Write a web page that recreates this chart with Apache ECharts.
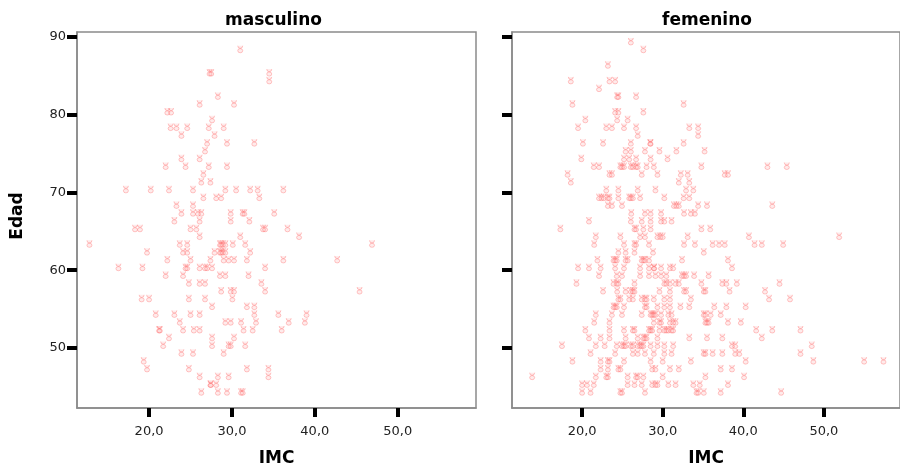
<!DOCTYPE html>
<html>
<head>
<meta charset="utf-8">
<script src="https://cdn.jsdelivr.net/npm/echarts@6/dist/echarts.min.js"></script>
<style>html,body{margin:0;padding:0;background:#fff}#c{width:900px;height:472px}</style>
</head>
<body>
<div id="c"></div>
<script>
// ---- data: [IMC, Edad] ----
const masculino = [
[31.0,88],
[27.3,85],[27.5,85],[34.5,85],
[34.5,84],
[28.3,82],
[26.1,81],[30.25,81],
[22.2,80],[22.65,80],
[27.6,79],
[22.6,78],[23.3,78],[24.6,78],[27.2,78],[29.0,78],
[23.9,77],[27.9,77],
[27.0,76],[29.4,76],[32.7,76],
[26.75,75],
[23.9,74],[26.1,74],
[22.0,73],[24.4,73],[27.2,73],[29.4,73],
[26.55,72],
[26.3,71],[27.4,71],
[17.2,70],[20.2,70],[22.4,70],[25.3,70],[29.2,70],[30.5,70],[32.2,70],[33.1,70],[36.2,70],
[26.55,69],[28.1,69],[28.7,69],[33.3,69],
[23.3,68],[25.3,68],
[23.9,67],[25.3,67],[25.9,67],[26.3,67],[29.85,67],[31.3,67],[31.5,67],[35.1,67],
[23.05,66],[26.1,66],[29.85,66],[32.1,66],
[18.3,65],[18.9,65],[25.0,65],[25.7,65],[33.75,65],[34.0,65],[36.7,65],
[26.1,64],[31.0,64],[38.1,64],
[12.8,63],[23.7,63],[24.6,63],[28.55,63],[28.7,63],[28.9,63],[29.2,63],[30.1,63],[31.6,63],[46.9,63],
[19.75,62],[24.1,62],[24.6,62],[27.9,62],[28.55,62],[28.7,62],[28.9,62],[29.2,62],[32.2,62],
[22.2,61],[25.0,61],[27.4,61],[29.0,61],[29.6,61],[30.25,61],[31.8,61],[36.2,61],[42.7,61],
[16.3,60],[19.2,60],[24.4,60],[24.6,60],[26.1,60],[26.75,60],[27.0,60],[27.6,60],[34.0,60],
[22.0,59],[24.1,59],[28.55,59],[29.2,59],[32.0,59],
[24.8,58],[26.1,58],[26.75,58],[33.55,58],
[28.7,57],[29.85,57],[30.25,57],[34.0,57],[45.4,57],
[19.1,56],[20.0,56],[24.8,56],[26.75,56],[30.05,56],
[27.6,55],[31.8,55],[32.7,55],
[20.8,54],[23.05,54],[25.0,54],[26.1,54],[32.7,54],[35.6,54],[39.0,54],
[23.7,53],[29.2,53],[29.85,53],[31.1,53],[32.9,53],[36.85,53],[38.8,53],
[21.2,52],[21.3,52],[24.1,52],[25.4,52],[26.1,52],[31.4,52],[32.5,52],[36.0,52],
[22.4,51],[27.6,51],[30.25,51],
[21.7,50],[27.6,50],[29.6,50],[29.85,50],[31.6,50],
[23.9,49],[25.3,49],[29.0,49],
[19.35,48],
[19.75,47],[24.8,47],[31.8,47],[34.4,47],
[26.1,46],[28.3,46],[29.6,46],[34.4,46],
[27.4,45],[27.45,45],[28.1,45],
[26.3,44],[28.3,44],[29.4,44],[31.1,44],[31.3,44]
];

const femenino = [
[26.05,89],
[27.6,88],
[23.2,86],
[18.6,84],[23.4,84],[24.1,84],
[22.1,83],
[24.35,82],[24.5,82],[26.7,82],
[18.8,81],[32.6,81],
[24.1,80],[24.5,80],[27.6,80],
[20.4,79],[24.35,79],[25.65,79],
[19.5,78],[23.0,78],[23.7,78],[25.2,78],[26.7,78],[33.3,78],[34.4,78],
[26.9,77],[34.4,77],
[20.1,76],[22.6,76],[26.05,76],[28.45,76],[28.5,76],[32.6,76],
[25.4,75],[26.05,75],[27.8,75],[29.6,75],[31.7,75],[35.2,75],
[19.9,74],[25.2,74],[25.85,74],[26.7,74],[28.5,74],[30.6,74],
[21.45,73],[22.1,73],[24.75,73],[24.95,73],[25.2,73],[26.05,73],[26.3,73],[26.7,73],[26.9,73],[28.0,73],[28.9,73],[34.8,73],[43.0,73],[45.4,73],
[18.2,72],[23.4,72],[23.7,72],[27.4,72],[29.35,72],[32.25,72],[33.1,72],[37.7,72],[38.1,72],
[18.6,71],[32.0,71],[33.3,71],
[23.0,70],[24.5,70],[26.9,70],[29.1,70],[32.9,70],[33.8,70],
[22.1,69],[22.4,69],[22.7,69],[23.2,69],[23.4,69],[24.5,69],[25.85,69],[26.05,69],[26.3,69],[27.2,69],[30.2,69],[32.6,69],[33.3,69],
[23.2,68],[23.7,68],[24.95,68],[31.4,68],[31.7,68],[32.0,68],[34.4,68],[35.5,68],[43.6,68],
[26.1,67],[27.8,67],[28.5,67],[29.8,67],[32.65,67],[33.5,67],[34.0,67],
[20.85,66],[26.05,66],[27.4,66],[28.5,66],[29.8,66],[30.2,66],[31.1,66],
[17.3,65],[26.5,65],[26.7,65],[27.6,65],[28.5,65],[34.8,65],[35.9,65],
[21.7,64],[24.75,64],[27.2,64],[27.8,64],[29.35,64],[29.7,64],[30.0,64],[33.1,64],[40.7,64],[51.9,64],
[21.5,63],[25.2,63],[26.5,63],[26.7,63],[28.3,63],[32.65,63],[34.0,63],[36.2,63],[37.0,63],[37.7,63],[41.4,63],[42.3,63],[44.95,63],
[24.5,62],[25.4,62],[26.5,62],[28.8,62],[35.1,62],
[21.9,61],[23.9,61],[24.1,61],[24.3,61],[25.4,61],[25.65,61],[27.4,61],[27.6,61],[27.8,61],[28.3,61],[32.4,61],[38.1,61],
[19.5,60],[20.85,60],[22.3,60],[24.1,60],[25.2,60],[27.2,60],[28.3,60],[28.9,60],[28.95,60],[29.8,60],[30.9,60],[31.3,60],[38.6,60],
[22.1,59],[24.3,59],[24.95,59],[27.2,59],[28.3,59],[29.1,59],[29.8,59],[30.45,59],[32.4,59],[32.65,59],[32.9,59],[33.9,59],[35.7,59],
[19.3,58],[23.9,58],[24.3,58],[24.5,58],[26.5,58],[30.2,58],[30.45,58],[30.9,58],[31.6,58],[32.0,58],[34.8,58],[37.4,58],[37.9,58],[39.2,58],[44.5,58],
[22.6,57],[24.35,57],[25.4,57],[26.05,57],[26.3,57],[26.5,57],[29.6,57],[30.9,57],[32.65,57],[32.9,57],[35.1,57],[35.3,57],[38.3,57],[42.7,57],
[24.5,56],[24.75,56],[25.85,56],[26.3,56],[27.4,56],[27.8,56],[28.0,56],[28.9,56],[30.2,56],[30.9,56],[33.5,56],[43.2,56],[45.8,56],
[23.9,55],[24.1,55],[24.3,55],[25.2,55],[27.8,55],[28.0,55],[29.35,55],[30.2,55],[30.9,55],[32.2,55],[33.3,55],[36.4,55],[37.9,55],[40.3,55],
[21.7,54],[23.7,54],[24.95,54],[27.4,54],[28.5,54],[28.7,54],[28.9,54],[29.1,54],[29.8,54],[30.7,54],[31.1,54],[35.1,54],[35.3,54],[35.95,54],[37.2,54],
[21.5,53],[23.4,53],[28.9,53],[29.6,53],[29.8,53],[30.9,53],[31.3,53],[31.6,53],[35.3,53],[35.5,53],[35.7,53],[38.1,53],[39.7,53],
[20.4,52],[23.4,52],[25.2,52],[26.3,52],[26.5,52],[28.3,52],[28.5,52],[28.7,52],[29.6,52],[30.2,52],[30.45,52],[30.7,52],[31.1,52],[31.3,52],[41.6,52],[43.6,52],[47.1,52],
[20.85,51],[22.3,51],[23.4,51],[25.4,51],[26.9,51],[27.6,51],[27.8,51],[28.0,51],[29.35,51],[33.3,51],[35.5,51],[37.4,51],[42.3,51],
[17.5,50],[21.7,50],[22.8,50],[24.3,50],[24.95,50],[25.2,50],[25.4,50],[26.05,50],[26.3,50],[26.9,50],[27.2,50],[27.4,50],[27.6,50],[28.5,50],[29.35,50],[30.2,50],[31.3,50],[38.6,50],[39.0,50],[48.5,50],
[21.05,49],[24.1,49],[26.3,49],[26.9,49],[27.8,49],[28.9,49],[30.2,49],[31.1,49],[35.1,49],[35.3,49],[36.2,49],[37.4,49],[39.0,49],[39.5,49],[47.1,49],
[18.8,48],[22.3,48],[23.2,48],[23.4,48],[25.2,48],[28.5,48],[30.0,48],[33.5,48],[40.3,48],[48.7,48],[55.0,48],[57.4,48],
[22.3,47],[23.2,47],[24.5,47],[24.75,47],[28.7,47],[29.1,47],[30.9,47],[32.0,47],[37.2,47],[38.6,47],
[13.8,46],[21.7,46],[23.0,46],[23.2,46],[25.65,46],[26.7,46],[26.9,46],[27.6,46],[30.0,46],[35.3,46],[40.1,46],
[20.0,45],[20.6,45],[21.45,45],[25.65,45],[26.5,45],[27.4,45],[28.7,45],[29.1,45],[29.35,45],[30.7,45],[31.6,45],[33.8,45],[34.6,45],[38.1,45],
[20.0,44],[21.05,44],[24.75,44],[24.95,44],[27.8,44],[34.2,44],[34.4,44],[35.1,44],[37.2,44],[44.7,44]
];

const xTicks = [20, 30, 40, 50];
const yTicks = [50, 60, 70, 80, 90];
const panelTitles = ['masculino', 'femenino'];
const xName = 'IMC';
const yName = 'Edad';

// ---- chart ----
const FONT = 'DejaVu Sans';
const chart = echarts.init(document.getElementById('c'), null, {renderer: 'canvas'});
const glyph = 'path://M1,0 Q1,5 5,5 Q9,5 9,0 M5,5.5 A4,4 0 1 0 5,13.5 A4,4 0 1 0 5,5.5 Z';

function xAxisCfg(i) {
  return {
    type: 'value', gridIndex: i, min: 11.3, max: 59.45,
    axisLine: {show: true, onZero: false, lineStyle: {color: '#8a8a8a', width: 1.5}},
    axisTick: {show: true, length: 9, inside: false, customValues: xTicks, lineStyle: {color: '#000', width: 4}},
    axisLabel: {show: true, customValues: xTicks, margin: 17, fontSize: 13, color: '#222', fontFamily: FONT,
      formatter: v => v.toFixed(1).replace('.', ',')},
    splitLine: {show: false},
    name: xName, nameLocation: 'middle', nameGap: 42,
    nameTextStyle: {fontFamily: FONT, fontWeight: 'bold', fontSize: 17, color: '#000'}
  };
}
function yAxisCfg(i) {
  return {
    type: 'value', gridIndex: i, min: 42.3, max: 90.6,
    axisLine: {show: true, onZero: false, lineStyle: {color: '#8a8a8a', width: 1.5}},
    axisTick: {show: true, length: 10, inside: false, customValues: yTicks, lineStyle: {color: '#000', width: 4}},
    axisLabel: {show: i === 0, customValues: yTicks, margin: 11, fontSize: 13, color: '#222', fontFamily: FONT},
    splitLine: {show: false}
  };
}
function seriesCfg(i, data) {
  return {
    type: 'scatter', xAxisIndex: i, yAxisIndex: i, data: data,
    symbol: glyph, symbolSize: [5, 7], symbolOffset: [0, -3],
    itemStyle: {color: 'rgba(255,140,140,0.22)', borderColor: 'rgba(255,80,80,0.5)', borderWidth: 0.8},
    emphasis: {disabled: true}, silent: true
  };
}

chart.setOption({
  animation: false,
  backgroundColor: '#fff',
  grid: [
    {left: 77, top: 32, width: 399, height: 380, show: true, borderColor: '#8a8a8a', borderWidth: 1.5},
    {left: 512, top: 32, width: 399, height: 380, show: true, borderColor: '#8a8a8a', borderWidth: 1.5}
  ],
  xAxis: [xAxisCfg(0), xAxisCfg(1)],
  yAxis: [yAxisCfg(0), yAxisCfg(1)],
  series: [seriesCfg(0, masculino), seriesCfg(1, femenino)],
  graphic: [
    {type: 'text', x: 273.5, y: 21, style: {text: panelTitles[0], textAlign: 'center', textVerticalAlign: 'middle',
      font: 'bold 17px "' + FONT + '"', fill: '#000'}},
    {type: 'text', x: 707, y: 21, style: {text: panelTitles[1], textAlign: 'center', textVerticalAlign: 'middle',
      font: 'bold 17px "' + FONT + '"', fill: '#000'}},
    {type: 'text', x: 18, y: 216, rotation: Math.PI / 2, style: {text: yName, textAlign: 'center', textVerticalAlign: 'middle',
      font: 'bold 17px "' + FONT + '"', fill: '#000'}}
  ]
});
</script>
</body>
</html>
